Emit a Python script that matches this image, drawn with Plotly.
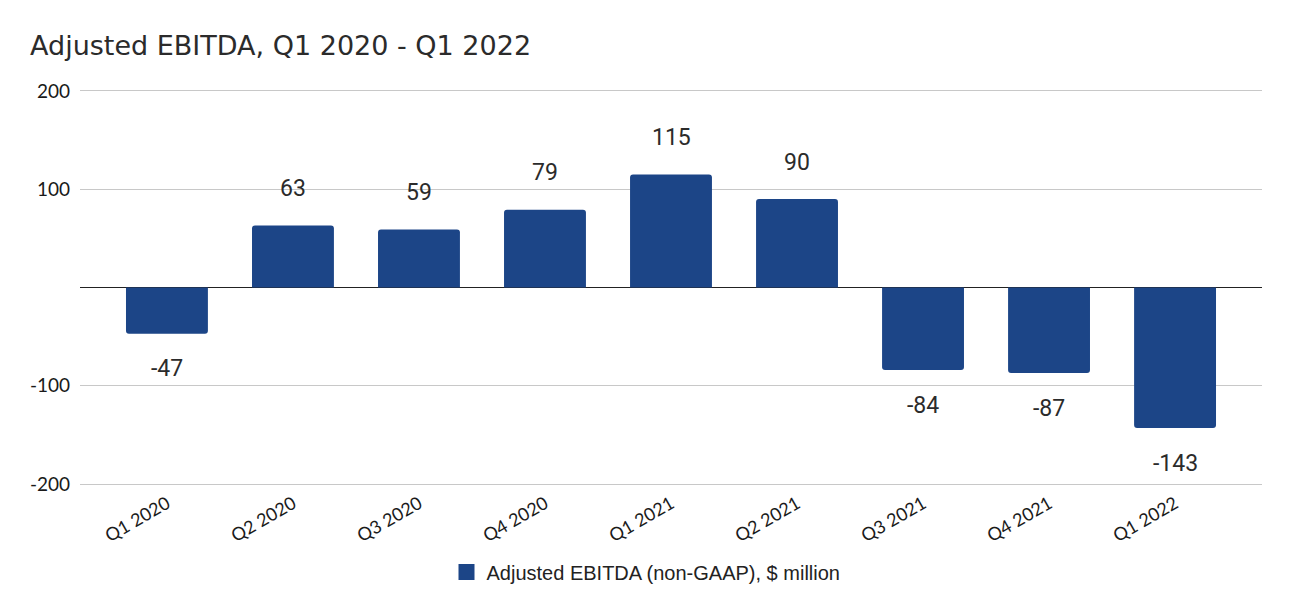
import plotly.graph_objects as go

quarters = ["Q1 2020", "Q2 2020", "Q3 2020", "Q4 2020", "Q1 2021",
            "Q2 2021", "Q3 2021", "Q4 2021", "Q1 2022"]
ebitda = [-47, 63, 59, 79, 115, 90, -84, -87, -143]
series_name = "Adjusted EBITDA (non-GAAP), $ million"
title_text = "Adjusted EBITDA, Q1 2020 - Q1 2022"
y_ticks = [-200, -100, 0, 100, 200]
y_tick_text = ["-200", "-100", "", "100", "200"]

bar_color = "#1c4587"
text_color = "#2b2b2b"

# page body has an 8px margin; size the figure so it sits inside the window
W, H = 1276, 597

fig = go.Figure()
fig.add_trace(go.Bar(
    x=list(range(len(quarters))),
    y=ebitda,
    name=series_name,
    marker=dict(color=bar_color, cornerradius=3, line=dict(width=0)),
    width=0.65,
    showlegend=False,
))
# legend entry with a larger square swatch
fig.add_trace(go.Scatter(
    x=[None], y=[None], mode="markers", name=series_name,
    marker=dict(symbol="square", size=21, color=bar_color),
    showlegend=True,
))

for i, v in enumerate(ebitda):
    fig.add_annotation(
        x=i, y=v, text=str(v), showarrow=False,
        yshift=37 if v >= 0 else -35, yanchor="middle",
        font=dict(family="Roboto", size=23, color=text_color),
    )

fig.update_layout(
    width=W, height=H,
    margin=dict(l=72, r=22, t=78, b=116, autoexpand=False),
    paper_bgcolor="white", plot_bgcolor="white",
    title=dict(text=title_text, x=22 / W, xref="container", xanchor="left",
               y=1 - 38 / H, yref="container", yanchor="middle",
               font=dict(family="DejaVu Sans", size=27, color=text_color)),
    xaxis=dict(
        tickmode="array", tickvals=list(range(len(quarters))), ticktext=quarters,
        range=[-0.69, 8.69], tickangle=-30, showgrid=False, showline=False,
        zeroline=False, ticks="",
        tickfont=dict(family="Lato", size=18, color="#1a1a1a"),
    ),
    yaxis=dict(
        range=[-205, 205], tickmode="array", tickvals=y_ticks, ticktext=y_tick_text,
        showgrid=True, gridcolor="#c8c8c8", gridwidth=1,
        zeroline=True, zerolinecolor="#222222", zerolinewidth=1,
        showline=False, ticks="", ticklabelstandoff=9,
        tickfont=dict(family="Lato", size=19, color="#1a1a1a"),
    ),
    legend=dict(orientation="h", x=0.5, xref="container", xanchor="center",
                y=33 / H, yref="container", yanchor="middle",
                font=dict(family="Liberation Sans", size=20, color="#222222"),
                itemsizing="trace"),
)

fig.write_html("out.html")
